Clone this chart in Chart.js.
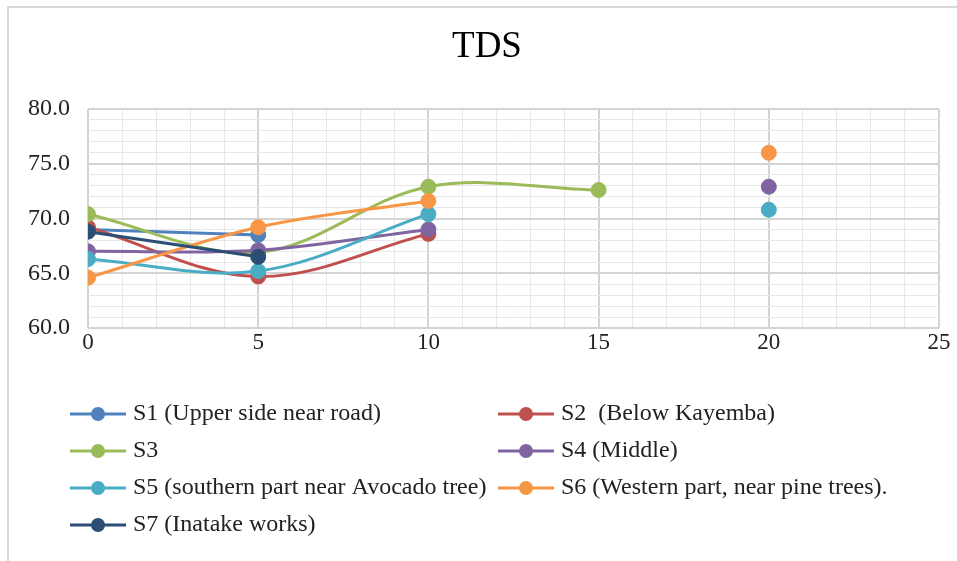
<!DOCTYPE html>
<html>
<head>
<meta charset="utf-8">
<title>TDS</title>
<script src="https://cdn.jsdelivr.net/npm/chart.js@4"></script>
<style>
    html, body { margin: 0; padding: 0; background: #fff; }
    #wrap { position: relative; width: 957px; height: 561px; }
    #frame {
        position: absolute; left: 7px; top: 6px; right: -4px; bottom: -4px;
        border: 2px solid #d9d9d9; pointer-events: none;
    }
</style>
</head>
<body>
<div id="wrap">
    <canvas id="myChart"></canvas>
    <div id="frame"></div>
</div>
<script>
// Sampling times (x) and TDS readings per sampling point, null = not measured
const xValues = [0, 5, 10, 15, 20];
const s1 = [69.0, 68.5, null, null, null];
const s2 = [69.2, 64.7, 68.6, null, null];
const s3 = [70.4, 66.9, 72.9, 72.6, null];
const s4 = [67.0, 67.1, 69.0, null, 72.9];
const s5 = [66.3, 65.2, 70.4, null, 70.8];
const s6 = [64.6, 69.2, 71.6, null, 76.0];
const s7 = [68.8, 66.5, null, null, null];

const seriesNames = [
    'S1 (Upper side near road)',
    'S2  (Below Kayemba)',
    'S3',
    'S4 (Middle)',
    'S5 (southern part near Avocado tree)',
    'S6 (Western part, near pine trees).',
    'S7 (Inatake works)'
];
const seriesValues = [s1, s2, s3, s4, s5, s6, s7];
const barColors = ['#4F81BD', '#C0504D', '#9BBB59', '#8064A2', '#4BACC6', '#F79646', '#2C4D75'];

const serif = 'Liberation Serif, Times New Roman, serif';

document.addEventListener('DOMContentLoaded', function () {
    const datasets = seriesValues.map((vals, i) => ({
        label: seriesNames[i],
        data: xValues.map((x, j) => ({ x: x, y: vals[j] })),
        borderColor: barColors[i],
        backgroundColor: barColors[i],
        pointBackgroundColor: barColors[i],
        pointBorderColor: barColors[i],
        borderWidth: 3,
        pointRadius: 7.5,
        pointBorderWidth: 1,
        tension: 0.35,
        spanGaps: false,
        order: seriesValues.length - i   // S1 drawn first, S7 on top
    }));

    // Title centred on the outer frame, plus a two column legend under the plot
    const titleAndLegend = {
        id: 'titleAndLegend',
        afterDraw(chart) {
            const ctx = chart.ctx;
            ctx.save();
            ctx.fillStyle = '#000';
            ctx.font = '37px ' + serif;
            ctx.textAlign = 'center';
            ctx.textBaseline = 'middle';
            ctx.fillText('TDS', 487, 47);

            const cols = [70, 498];
            const rows = [414, 451, 488, 525];
            seriesNames.forEach((name, i) => {
                const x = cols[i % 2];
                const y = rows[Math.floor(i / 2)];
                ctx.strokeStyle = barColors[i];
                ctx.lineWidth = 3;
                ctx.beginPath();
                ctx.moveTo(x, y);
                ctx.lineTo(x + 56, y);
                ctx.stroke();
                ctx.fillStyle = barColors[i];
                ctx.beginPath();
                ctx.arc(x + 28, y, 7, 0, Math.PI * 2);
                ctx.fill();
                ctx.fillStyle = '#222';
                ctx.font = '24px ' + serif;
                ctx.textBaseline = 'middle';
                ctx.textAlign = 'left';
                ctx.fillText(name, x + 63, y);
            });
            ctx.restore();
        }
    };

    const isMajor = ctx => ctx.tick && Math.round(ctx.tick.value) % 5 === 0;

    new Chart('myChart', {
        type: 'line',
        data: { datasets: datasets },
        options: {
            responsive: true,
            maintainAspectRatio: false,
            animation: false,
            layout: { padding: { left: 0, right: 18, top: 109, bottom: 0 } },
            plugins: {
                legend: { display: false },
                tooltip: { enabled: false },
                title: { display: false }
            },
            scales: {
                x: {
                    type: 'linear',
                    min: 0,
                    max: 25,
                    afterFit(scale) { scale.height = 233; },
                    border: { display: false },
                    grid: {
                        drawTicks: false,
                        color: ctx => isMajor(ctx) ? '#d4d4d4' : '#e8e8e8',
                        lineWidth: ctx => isMajor(ctx) ? 2 : 1
                    },
                    ticks: {
                        stepSize: 1,
                        autoSkip: false,
                        maxRotation: 0,
                        padding: 1,
                        color: '#222',
                        font: { family: serif, size: 23 },
                        callback: v => v % 5 === 0 ? v : ''
                    }
                },
                y: {
                    min: 60,
                    max: 80,
                    afterFit(scale) { scale.width = 88; },
                    border: { display: false },
                    grid: {
                        drawTicks: false,
                        color: ctx => isMajor(ctx) ? '#d4d4d4' : '#e8e8e8',
                        lineWidth: ctx => isMajor(ctx) ? 2 : 1
                    },
                    ticks: {
                        stepSize: 1,
                        autoSkip: false,
                        padding: 18,
                        color: '#222',
                        font: { family: serif, size: 24 },
                        callback: v => v % 5 === 0 ? v.toFixed(1) : ''
                    }
                }
            }
        },
        plugins: [titleAndLegend]
    });
});
</script>
</body>
</html>
